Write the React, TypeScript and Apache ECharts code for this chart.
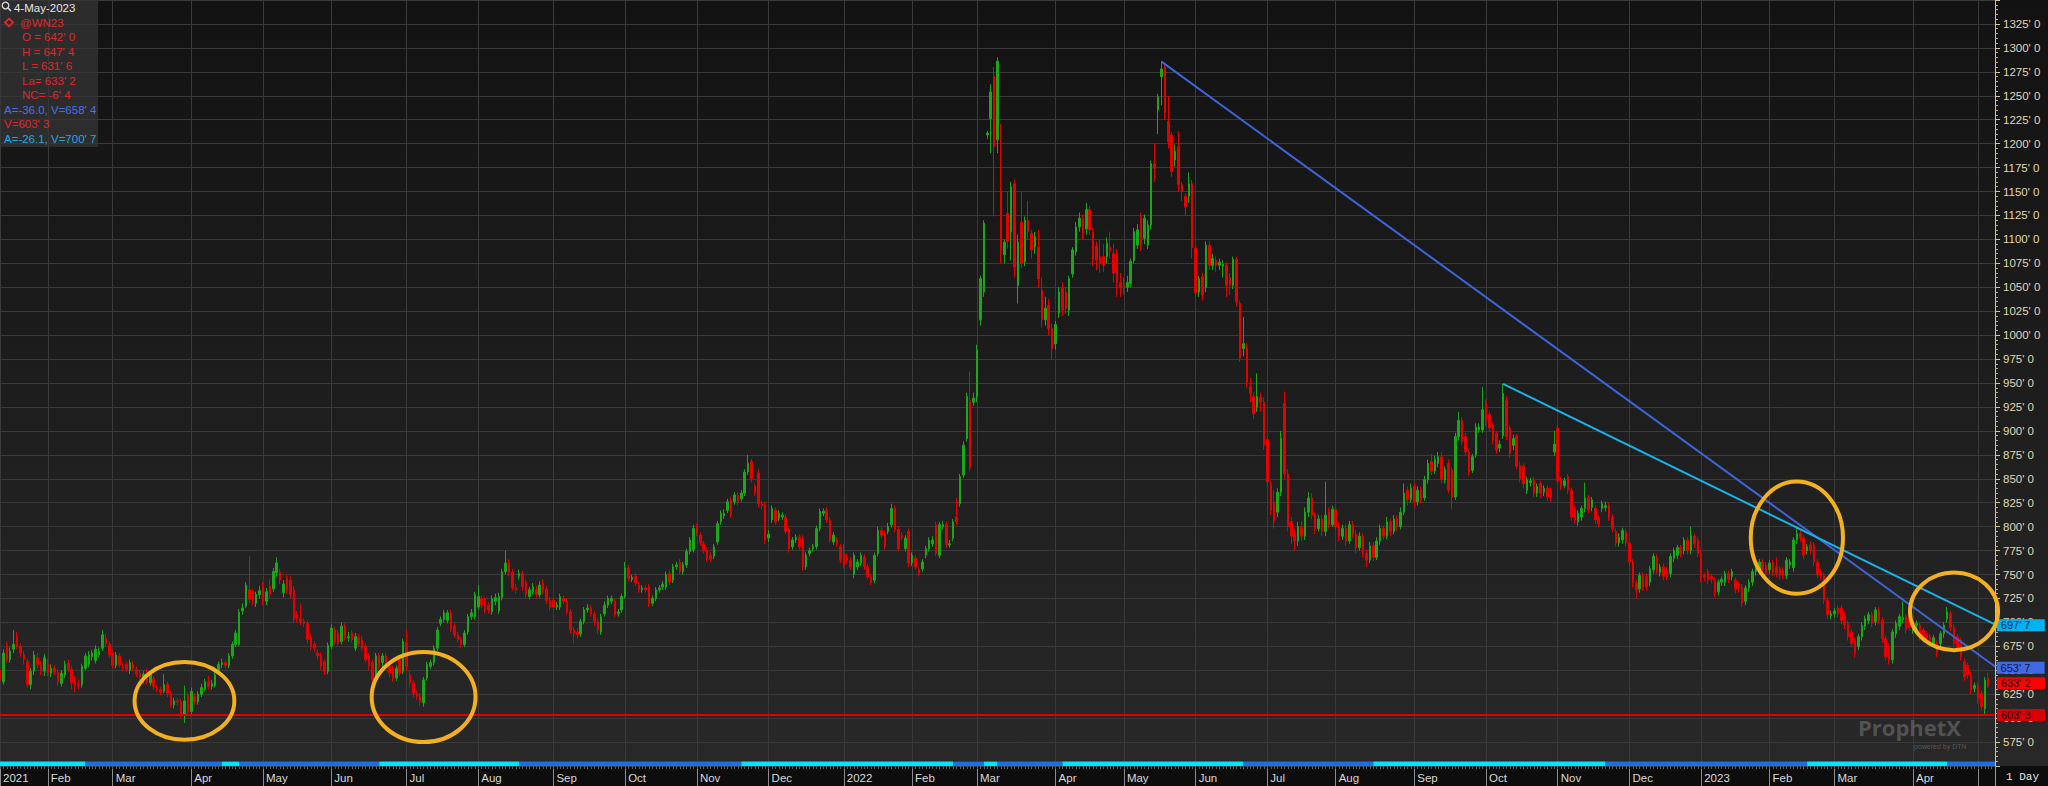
import React, { useEffect, useRef } from "react";
import * as echarts from "echarts";

// ---------- categories (trading days) ----------
const FIRST_DAY = "2021-01-11";
const LAST_DAY = "2023-05-08"; // two empty sessions after the last bar
const HOLIDAYS = [
  "2021-01-18", "2021-02-15", "2021-04-02", "2021-05-31", "2021-07-05", "2021-09-06",
  "2021-11-25", "2021-12-24", "2022-01-17", "2022-02-21", "2022-04-15", "2022-05-30",
  "2022-06-20", "2022-07-04", "2022-09-05", "2022-11-24", "2022-12-26", "2023-01-02",
  "2023-01-16", "2023-02-20", "2023-04-07",
];
const MONTH_ABBR = ["Jan", "Feb", "Mar", "Apr", "May", "Jun", "Jul", "Aug", "Sep", "Oct", "Nov", "Dec"];

// ---------- OHLC values [open, close, low, high] ----------
const OHLC_2021_Q1 = [
  // Jan
  [650,640,632,655],[638,668,635,672],[675,661,658,680],[661,670,658,674],[672,677,668,692],[685,675,672,690],[675,668,664,678],[666,661,656,670],[659,635,632,662],[635,649,630,652],[649,666,645,670],[663,656,652,668],[656,649,645,660],[649,663,644,667],
  // Feb
  [657,647,644,662],[647,652,643,656],[652,648,645,655],[648,638,634,651],[636,647,633,650],[645,656,642,660],[657,651,648,661],[651,637,630,654],[640,634,627,644],[635,634,630,640],[635,654,632,657],[652,665,650,668],[656,666,653,670],[664,668,660,671],[660,672,657,676],[666,670,663,674],[673,687,670,692],[684,678,675,688],[677,666,663,680],
  // Mar
  [668,655,652,671],[655,666,652,669],[665,656,653,668],[654,652,649,658],[656,651,648,659],[650,658,646,661],[656,652,649,660],[651,646,643,654],[647,643,640,650],[640,646,636,649],[648,638,635,652],[637,646,634,650],[641,633,630,644],[632,630,627,635],[630,627,624,633],[628,635,626,646],[635,626,622,638],[626,614,611,629],[614,618,610,621],[618,617,613,621],[617,604,600,620],[604,618,595,634],[624,606,603,627],
];
const OHLC_2021_Q2 = [
  // Apr
  [607,628,604,632],[623,617,614,626],[617,625,614,628],[625,632,622,636],[630,638,628,641],[638,633,630,644],[633,636,630,640],[634,645,632,648],[649,656,646,659],[656,658,652,662],[658,655,651,661],[655,665,652,668],[665,677,662,680],[677,689,674,692],[677,711,675,714],[712,715,708,720],[717,739,715,742],[734,724,720,769],[732,724,718,735],[720,729,716,732],[729,733,725,738],
  // May
  [737,722,718,742],[722,732,718,736],[738,729,725,745],[735,753,732,757],[752,762,748,768],[752,744,740,756],[731,740,726,744],[746,734,730,750],[744,729,725,748],[734,703,700,738],[708,704,700,712],[704,701,697,720],[701,699,695,704],[699,682,678,702],[684,675,671,688],[677,673,669,680],[668,665,661,672],[666,654,650,669],[659,649,645,662],[649,676,646,679],
  // Jun
  [675,694,672,698],[692,680,677,695],[689,678,675,692],[680,696,677,700],[696,684,681,699],[684,685,680,690],[689,682,679,692],[673,685,670,689],[684,678,675,688],[682,673,670,686],[675,661,658,678],[665,654,650,668],[658,640,637,661],[640,665,637,668],[665,654,651,668],[658,665,652,668],[665,658,654,668],[654,647,643,657],[652,642,638,655],[642,652,639,655],[661,647,644,664],[649,680,646,683],
];
const OHLC_2021_Q3 = [
  // Jul
  [679,654,650,692],[645,637,632,650],[637,626,622,640],[626,623,619,629],[623,617,613,626],[616,640,612,643],[642,656,639,659],[654,658,651,661],[658,673,655,676],[673,692,670,695],[699,703,696,706],[703,710,700,713],[702,710,699,713],[710,693,690,713],[696,687,684,699],[687,682,679,690],[682,677,673,685],[677,689,674,692],[690,706,687,709],[706,710,703,714],[706,729,703,732],
  // Aug
  [716,727,713,739],[725,718,715,728],[724,713,710,727],[718,713,709,721],[711,725,708,728],[722,726,718,730],[712,727,709,731],[726,753,723,756],[753,762,750,775],[762,752,748,766],[752,736,733,756],[736,734,730,740],[748,751,745,755],[751,737,733,754],[742,729,725,745],[727,734,724,737],[732,737,729,741],[734,729,726,738],[729,739,726,743],[741,734,730,745],[735,723,719,738],[723,716,712,727],
  // Sep
  [723,716,713,726],[716,718,713,721],[716,727,713,730],[725,722,719,728],[722,711,708,725],[711,692,688,714],[692,688,678,695],[690,687,683,694],[688,701,685,704],[701,713,698,716],[713,715,710,719],[715,709,706,718],[709,701,697,712],[701,692,688,704],[690,706,687,709],[709,718,706,722],[718,725,715,728],[722,725,719,728],[722,708,705,725],[709,711,706,714],[713,727,710,730],
];
const OHLC_2021_Q4 = [
  // Oct
  [727,757,725,763],[757,746,743,760],[745,747,742,750],[748,741,738,751],[739,734,731,742],[734,736,731,739],[736,734,731,738],[737,720,716,740],[720,725,717,728],[725,734,722,737],[734,736,731,739],[737,740,734,743],[737,750,734,753],[751,742,739,754],[744,758,741,761],[758,760,755,763],[763,753,750,766],[753,760,750,763],[760,774,757,777],[774,786,771,789],[776,798,773,802],
  // Nov
  [800,793,790,803],[791,783,780,794],[782,775,772,785],[775,767,764,778],[770,766,763,773],[769,779,766,782],[784,803,781,806],[805,814,802,817],[811,814,808,818],[817,826,814,829],[828,812,809,831],[826,833,823,836],[833,826,822,836],[829,835,826,838],[835,857,832,860],[857,866,854,875],[868,850,846,871],[842,835,832,845],[856,824,820,860],[824,822,818,827],[823,786,782,826],
  // Dec
  [788,792,784,796],[807,819,804,822],[817,805,802,820],[809,814,806,817],[810,812,807,815],[810,795,792,813],[797,777,773,800],[779,786,776,789],[786,789,783,792],[789,779,776,792],[788,758,754,791],[758,770,755,773],[772,775,769,778],[777,779,774,782],[779,798,776,801],[798,816,795,819],[814,816,811,819],[817,807,804,820],[807,786,783,810],[784,791,781,794],[786,782,779,789],[779,765,762,782],
];
const OHLC_2022_Q1 = [
  // Jan
  [772,760,756,782],[768,765,761,772],[765,758,755,768],[750,770,746,773],[758,763,755,766],[762,770,759,773],[768,758,755,771],[758,748,745,761],[747,742,739,750],[744,770,741,773],[772,796,769,800],[796,791,788,799],[793,779,776,796],[795,800,792,804],[802,819,799,824],[819,797,794,822],[797,777,774,800],[791,789,786,794],[777,788,774,791],[795,762,758,798],
  // Feb
  [762,770,759,773],[767,758,755,770],[755,751,748,758],[756,763,753,766],[770,777,767,780],[777,786,774,789],[782,786,779,790],[802,772,769,805],[770,802,767,805],[800,802,797,806],[802,781,778,805],[781,782,778,786],[788,805,785,808],[810,805,802,830],[824,852,821,855],[854,885,851,889],[892,936,889,940],[931,861,858,962],[930,934,926,940],
  // Mar
  [936,984,930,990],[1016,1059,1010,1062],[1045,1117,1040,1120],[1209,1211,1205,1213],[1226,1254,1190,1262],[1270,1197,1124,1280],[1204,1286,1190,1290],[1151,1089,1075,1221],[1084,1097,1075,1100],[1127,1098,1090,1150],[1108,1155,1078,1160],[1158,1071,1060,1163],[1052,1097,1033,1105],[1118,1075,1070,1150],[1077,1120,1072,1124],[1120,1108,1100,1140],[1106,1089,1080,1110],[1092,1103,1085,1108],[1092,1059,1050,1110],[1047,1016,1008,1060],[1016,1028,1010,1040],[1031,1007,1000,1038],[1007,986,974,1012],
];
const OHLC_2022_Q2 = [
  // Apr
  [991,1011,985,1015],[1023,1045,1018,1050],[1049,1026,1020,1055],[1045,1028,1022,1050],[1026,1059,1020,1062],[1064,1089,1060,1092],[1087,1113,1083,1118],[1113,1122,1108,1128],[1122,1106,1100,1126],[1111,1131,1105,1138],[1131,1110,1105,1135],[1108,1078,1072,1112],[1093,1078,1068,1098],[1082,1075,1065,1100],[1082,1073,1066,1095],[1082,1096,1075,1102],[1092,1088,1080,1108],[1085,1065,1055,1095],[1085,1055,1040,1090],[1055,1049,1040,1065],
  // May
  [1052,1050,1042,1060],[1050,1055,1045,1062],[1054,1077,1050,1080],[1078,1108,1075,1112],[1094,1110,1090,1116],[1122,1094,1088,1128],[1101,1122,1095,1126],[1094,1115,1090,1120],[1115,1179,1110,1182],[1179,1174,1160,1200],[1235,1249,1210,1252],[1270,1278,1240,1286],[1280,1232,1225,1284],[1223,1202,1195,1250],[1209,1171,1165,1212],[1183,1192,1176,1199],[1197,1157,1150,1213],[1157,1150,1140,1160],[1145,1134,1125,1148],[1145,1158,1138,1170],[1158,1091,1080,1162],
  // Jun
  [1091,1044,1040,1095],[1045,1059,1040,1062],[1061,1042,1036,1065],[1050,1094,1045,1098],[1094,1073,1068,1098],[1073,1080,1068,1085],[1078,1073,1066,1082],[1073,1076,1068,1080],[1072,1074,1060,1078],[1073,1052,1040,1076],[1060,1052,1042,1065],[1052,1079,1048,1082],[1079,1035,1030,1082],[1033,976,972,1036],[986,991,978,1019],[986,951,945,992],[946,939,930,955],[936,918,912,940],[925,936,920,960],[935,930,920,940],[930,885,880,935],
];
const OHLC_2022_Q3 = [
  // Jul
  [891,847,840,894],[843,817,812,848],[825,805,798,838],[815,836,810,840],[836,892,832,900],[929,855,850,941],[855,800,795,860],[805,790,782,810],[792,785,775,798],[785,800,780,805],[800,790,785,806],[790,815,786,820],[815,830,810,836],[830,812,808,835],[812,798,792,815],[798,808,795,812],[808,795,790,812],[795,812,790,847],[815,802,798,820],[802,818,800,822],
  // Aug
  [818,800,796,822],[800,790,785,805],[790,798,786,802],[798,785,780,802],[785,802,782,806],[802,792,788,806],[792,778,772,796],[778,790,775,794],[790,772,768,793],[772,765,758,776],[765,780,762,784],[780,768,764,784],[768,785,765,789],[785,798,781,802],[798,790,786,801],[790,805,787,810],[805,795,790,808],[795,808,792,812],[808,800,796,812],[800,815,797,820],[815,835,812,845],[838,828,822,842],[828,840,825,845],
  // Sep
  [842,826,820,846],[826,838,822,842],[838,828,824,842],[830,849,827,853],[849,866,845,870],[868,858,854,876],[858,870,855,874],[866,873,862,878],[873,849,845,878],[849,860,845,863],[866,838,835,870],[859,831,818,862],[831,894,828,898],[894,911,890,920],[911,889,885,914],[894,878,874,898],[878,857,853,881],[859,873,856,876],[875,904,872,908],[901,904,898,908],[901,922,898,946],
];
const OHLC_2022_Q4 = [
  // Oct
  [930,910,905,933],[917,903,899,920],[906,890,886,909],[897,880,876,900],[882,886,878,890],[895,939,892,949],[932,894,890,936],[903,876,872,906],[885,892,880,896],[894,863,860,897],[864,850,846,868],[863,845,840,866],[838,849,834,852],[846,848,842,851],[849,835,831,852],[835,842,831,845],[845,835,830,848],[836,840,832,843],[840,831,827,843],[838,830,826,841],[878,886,874,900],
  // Nov
  [903,848,845,906],[849,842,838,852],[843,848,840,851],[852,838,834,855],[838,810,806,841],[819,807,803,822],[805,814,801,817],[810,819,806,822],[819,830,815,846],[830,818,814,833],[820,828,816,831],[819,807,803,822],[809,803,799,812],[819,824,815,827],[820,822,816,826],[822,810,806,825],[810,798,794,813],[795,783,779,798],[783,789,779,793],[786,796,782,799],[795,783,779,798],
  // Dec
  [783,763,759,786],[763,741,737,766],[741,734,725,744],[735,749,731,752],[749,737,733,752],[748,737,733,751],[742,756,738,759],[755,769,751,772],[768,755,751,771],[752,758,748,761],[758,748,744,761],[755,748,744,758],[751,769,747,772],[767,775,763,778],[770,778,766,781],[778,772,768,781],[775,786,771,789],[786,775,771,789],[775,791,771,800],[790,782,778,793],[786,772,768,789],
];
const OHLC_2023_Q1 = [
  // Jan
  [772,746,742,775],[749,747,743,752],[753,744,740,756],[748,745,741,751],[744,730,726,747],[732,742,728,745],[742,745,738,748],[742,751,738,754],[751,745,741,754],[748,753,744,756],[744,734,730,747],[740,735,731,743],[737,720,716,740],[722,736,718,739],[736,742,732,745],[742,753,738,756],[753,763,749,766],[755,763,751,766],[763,755,751,766],[760,751,747,763],
  // Feb
  [755,762,751,765],[762,752,748,765],[758,751,747,768],[756,749,745,759],[755,749,745,758],[749,765,745,768],[760,763,756,766],[757,786,753,789],[786,793,782,800],[793,788,784,796],[788,770,766,791],[775,779,771,782],[781,775,771,785],[781,763,759,784],[763,750,746,766],[753,748,744,756],[749,723,719,752],[723,708,704,726],[707,709,703,712],
  // Mar
  [709,712,705,715],[715,709,705,718],[715,702,698,718],[708,697,693,711],[699,685,681,702],[690,678,674,693],[681,668,663,684],[675,685,671,688],[685,697,681,700],[696,704,692,707],[702,708,698,711],[708,699,695,711],[701,713,697,716],[713,702,698,716],[702,683,679,705],[683,664,660,686],[675,661,656,678],[661,690,657,693],[688,699,684,702],[696,706,692,709],[703,705,699,722],[706,692,688,709],[704,695,691,707],
];
const OHLC_2023_Q2 = [
  // Apr
  [692,700,688,703],[697,699,693,702],[697,685,681,700],[692,682,678,695],[688,683,679,691],[685,678,674,688],[678,684,674,687],[678,668,664,681],[678,688,674,691],[688,697,684,700],[704,711,700,716],[709,695,691,712],[695,678,674,698],[685,673,669,688],[681,664,660,684],[659,643,639,662],[655,645,641,658],[645,629,625,648],[631,634,627,637],
  // May
  [634,619,615,637],[626,612,608,629],[610,639.75,603.375,643],[642,633.25,631.75,647.5],
];

// ---------- drawn studies ----------
const BLUE_LINE = { from: "2022-05-17", fromPrice: 1285.6, to: LAST_DAY, toPrice: 653.875 };
const CYAN_LINE = { from: "2022-10-10", fromPrice: 949, to: LAST_DAY, toPrice: 697.875 };
const SUPPORT_PRICE = 603.375;
const LAST_PRICE = 633.25;
const PREV_CLOSE = 639.75;
// annotation ellipses: centre date/price, half-width in sessions, half-height in price
const RINGS = [
  { date: "2021-03-30", price: 618, rxDays: 14.6, ryPrice: 40.5 },
  { date: "2021-07-09", price: 622, rxDays: 15.2, ryPrice: 47 },
  { date: "2023-02-13", price: 788.5, rxDays: 13.5, ryPrice: 58.5 },
  { date: "2023-04-20", price: 711.5, rxDays: 12.9, ryPrice: 40.5 },
];
// session strip under the price pane
const STRIP = [
  ["2021-01-11", "2021-02-17", "c"], ["2021-02-17", "2021-04-15", "b"], ["2021-04-15", "2021-04-22", "c"],
  ["2021-04-22", "2021-06-21", "b"], ["2021-06-21", "2021-08-18", "c"], ["2021-08-18", "2021-11-18", "b"],
  ["2021-11-18", "2022-02-17", "c"], ["2022-02-17", "2022-03-03", "b"], ["2022-03-03", "2022-03-09", "c"],
  ["2022-03-09", "2022-04-05", "b"], ["2022-04-05", "2022-06-22", "c"], ["2022-06-22", "2022-08-16", "b"],
  ["2022-08-16", "2022-11-21", "c"], ["2022-11-21", "2023-02-16", "b"], ["2023-02-16", "2023-04-18", "c"],
  ["2023-04-18", "2023-05-08", "b"],
];

const FONT = '"Liberation Sans", Arial, sans-serif';
const BLUE = "#3e64dc";
const CYAN = "#19b2ea";
const RED = "#e00000";
const UP = "#1aa81a";
const DOWN = "#e60000";

function buildTradingDays(first: string, last: string, holidays: string[]) {
  const out: string[] = [];
  const hol = new Set(holidays);
  const d = new Date(first + "T00:00:00Z");
  const end = new Date(last + "T00:00:00Z");
  while (d <= end) {
    const wd = d.getUTCDay();
    const s = d.toISOString().slice(0, 10);
    if (wd !== 0 && wd !== 6 && !hol.has(s)) out.push(s);
    d.setUTCDate(d.getUTCDate() + 1);
  }
  return out;
}

function eighths(v: number) {
  const sign = v < 0 ? "-" : "";
  const a = Math.abs(v);
  const whole = Math.floor(a + 1e-9);
  const frac = Math.round((a - whole) * 8);
  return `${sign}${whole}' ${frac}`;
}

export default function App() {
  const ref = useRef<HTMLDivElement>(null);

  useEffect(() => {
    if (!ref.current) return;
    const chart = echarts.init(ref.current, undefined, { renderer: "svg" });

    const dates = buildTradingDays(FIRST_DAY, LAST_DAY, HOLIDAYS);
    const ohlc = [
      ...OHLC_2021_Q1, ...OHLC_2021_Q2, ...OHLC_2021_Q3, ...OHLC_2021_Q4,
      ...OHLC_2022_Q1, ...OHLC_2022_Q2, ...OHLC_2022_Q3, ...OHLC_2022_Q4,
      ...OHLC_2023_Q1, ...OHLC_2023_Q2,
    ];
    const monthStart = dates.map((d, i) => i === 0 || d.slice(0, 7) !== dates[i - 1].slice(0, 7));
    const isMonthStart = (i: number) => !!monthStart[i];
    // the month that starts at the right-hand edge has no room for its label
    const showMonthLabel = (i: number) => !!monthStart[i] && i < dates.length - 10;
    const fmtMonth = (v: string) => {
      const m = parseInt(v.slice(5, 7), 10);
      return m === 1 ? v.slice(0, 4) : MONTH_ABBR[m - 1];
    };

    const priceBox = (text: string, bg: string, fg: string, dy = 0) => ({
      show: true,
      position: "end" as const,
      distance: 2,
      offset: [0, dy],
      formatter: text,
      backgroundColor: bg,
      color: fg,
      fontFamily: FONT,
      fontSize: 11,
      lineHeight: 11,
      padding: [1, 4, 0, 4],
      width: 40,
      align: "left" as const,
    });

    const option: any = {
      animation: false,
      backgroundColor: new echarts.graphic.LinearGradient(0, 0, 0, 1, [
        { offset: 0, color: "#121212" },
        { offset: 0.974, color: "#282828" },
        { offset: 0.9746, color: "#0d0d0d" },
        { offset: 1, color: "#0d0d0d" },
      ]),
      grid: { left: 0, right: 53, top: 0, bottom: 20, containLabel: false },
      xAxis: [
        {
          type: "category",
          data: dates,
          boundaryGap: false,
          axisLine: { show: false },
          axisTick: { show: true, interval: isMonthStart, length: 20, lineStyle: { color: "#8c8c8c", width: 1 } },
          axisLabel: {
            show: true,
            interval: showMonthLabel,
            formatter: fmtMonth,
            align: "left",
            margin: 6,
            padding: [0, 0, 0, 3],
            color: "#d8d8d8",
            fontSize: 11.5,
            fontFamily: FONT,
          },
          splitLine: { show: true, interval: isMonthStart, lineStyle: { color: "#3a3a3a", width: 1 } },
        },
        {
          type: "category",
          data: dates,
          boundaryGap: false,
          position: "bottom",
          axisLine: { show: false },
          axisTick: { show: true, interval: 0, length: 3, lineStyle: { color: "#5c5c5c", width: 1 } },
          axisLabel: { show: false },
          splitLine: { show: false },
        },
      ],
      yAxis: {
        type: "value",
        position: "right",
        min: 550,
        max: 1350,
        interval: 25,
        axisLine: { show: true, lineStyle: { color: "#d6c896", width: 1 } },
        axisTick: { show: true, length: 5, lineStyle: { color: "#d6c896" } },
        minorTick: { show: true, splitNumber: 5, length: 3, lineStyle: { color: "#b9ad83" } },
        axisLabel: {
          color: "#e0d6b6",
          fontSize: 11.5,
          lineHeight: 10,
          fontFamily: FONT,
          margin: 8,
          showMinLabel: false,
          showMaxLabel: false,
          formatter: (v: number) => `${v}' 0`,
        },
        splitLine: { show: true, lineStyle: { color: "#3a3a3a", width: 1 } },
      },
      series: [
        {
          name: "@WN23",
          type: "candlestick",
          xAxisIndex: 0,
          yAxisIndex: 0,
          data: ohlc,
          barWidth: 2,
          itemStyle: { color: UP, color0: DOWN, borderColor: UP, borderColor0: DOWN, borderWidth: 1 },
          markArea: {
            silent: true,
            data: STRIP.map(([s, e, c]) => [
              { xAxis: s, yAxis: 550, itemStyle: { color: c === "c" ? "#00e5ff" : "#1a6ee8", opacity: 1 } },
              { xAxis: e, yAxis: 554.6 },
            ]),
          },
          markLine: {
            silent: true,
            symbol: ["none", "none"],
            data: [
              [
                { coord: [BLUE_LINE.from, BLUE_LINE.fromPrice] },
                {
                  coord: [BLUE_LINE.to, BLUE_LINE.toPrice],
                  lineStyle: { color: BLUE, width: 2, type: "solid" },
                  label: priceBox(eighths(BLUE_LINE.toPrice), "#4169e1", "#0d1b45"),
                },
              ],
              [
                { coord: [CYAN_LINE.from, CYAN_LINE.fromPrice] },
                {
                  coord: [CYAN_LINE.to, CYAN_LINE.toPrice],
                  lineStyle: { color: CYAN, width: 2, type: "solid" },
                  label: priceBox(eighths(CYAN_LINE.toPrice), "#00b2f0", "#0d1b45"),
                },
              ],
              {
                yAxis: SUPPORT_PRICE,
                lineStyle: { color: RED, width: 2, type: "solid" },
                label: priceBox(eighths(SUPPORT_PRICE), "#dc0000", "#2a0000"),
              },
              {
                yAxis: LAST_PRICE,
                lineStyle: { color: "rgba(0,0,0,0)", width: 0, type: "solid" },
                label: priceBox(eighths(LAST_PRICE), "#ff0000", "#2a0000", -3),
              },
            ],
          },
        },
      ],
    };

    chart.setOption(option);

    // ---- graphics: rings placed through the chart's own coordinate system ----
    const p0 = chart.convertToPixel({ xAxisIndex: 0 }, dates[0]) as number;
    const p1 = chart.convertToPixel({ xAxisIndex: 0 }, dates[1]) as number;
    const pxPerDay = p1 - p0;
    const ya = chart.convertToPixel({ yAxisIndex: 0 }, 600) as number;
    const yb = chart.convertToPixel({ yAxisIndex: 0 }, 700) as number;
    const pxPerPrice = Math.abs(ya - yb) / 100;

    const rings = RINGS.map((r) => {
      const [cx, cy] = chart.convertToPixel({ gridIndex: 0 }, [r.date, r.price]) as number[];
      return {
        type: "ellipse",
        silent: true,
        z: 100,
        shape: { cx, cy, rx: r.rxDays * pxPerDay, ry: r.ryPrice * pxPerPrice },
        style: { fill: "none", stroke: "#f3b020", lineWidth: 4 },
      };
    });

    const last = ohlc[ohlc.length - 1];
    const legendLines = [
      { t: `O = ${eighths(last[0])}`, x: 22, y: 37, c: "#e0262b" },
      { t: `H = ${eighths(last[3])}`, x: 22, y: 51.5, c: "#e0262b" },
      { t: `L = ${eighths(last[2])}`, x: 22, y: 66, c: "#e0262b" },
      { t: `La= ${eighths(last[1])}`, x: 22, y: 80.5, c: "#e0262b" },
      { t: `NC= ${eighths(last[1] - PREV_CLOSE)}`, x: 22, y: 95, c: "#e0262b" },
      { t: "A=-36.0, V=658' 4", x: 4, y: 109.5, c: "#4a70e6" },
      { t: `V=${eighths(SUPPORT_PRICE)}`, x: 4, y: 124, c: "#e0262b" },
      { t: "A=-26.1, V=700' 7", x: 4, y: 138.5, c: "#1ea8e2" },
    ];

    const statics: any[] = [
      {
        type: "rect",
        silent: true,
        z: 90,
        shape: { x: 0, y: 0, width: 98, height: 147 },
        style: { fill: "rgba(54,54,54,0.72)" },
      },
      { type: "circle", silent: true, z: 100, shape: { cx: 5.5, cy: 5.5, r: 3.3 }, style: { fill: "none", stroke: "#d8d8d8", lineWidth: 1.3 } },
      { type: "line", silent: true, z: 100, shape: { x1: 8, y1: 8, x2: 11, y2: 11 }, style: { stroke: "#d8d8d8", lineWidth: 1.6 } },
      {
        type: "text", silent: true, z: 100, x: 14, y: 8,
        style: { text: "4-May-2023", fill: "#e6e6e6", fontSize: 11.5, fontFamily: FONT, verticalAlign: "middle" },
      },
      {
        type: "polygon", silent: true, z: 100,
        shape: { points: [[9, 18.5], [13, 22.5], [9, 26.5], [5, 22.5]] },
        style: { fill: "none", stroke: "#e0262b", lineWidth: 1.8 },
      },
      {
        type: "text", silent: true, z: 100, x: 20, y: 22.5,
        style: { text: "@WN23", fill: "#e0262b", fontSize: 11.5, fontFamily: FONT, verticalAlign: "middle" },
      },
      ...legendLines.map((l) => ({
        type: "text", silent: true, z: 100, x: l.x, y: l.y,
        style: { text: l.t, fill: l.c, fontSize: 11.5, fontFamily: FONT, verticalAlign: "middle" },
      })),
      {
        type: "text", silent: true, z: 5, x: 1858, y: 727,
        style: { text: "ProphetX", fill: "rgba(120,120,120,0.55)", fontSize: 22, fontWeight: "bold", fontFamily: '"Open Sans", sans-serif', verticalAlign: "middle" },
      },
      {
        type: "text", silent: true, z: 5, x: 1914, y: 746,
        style: { text: "powered by DTN", fill: "rgba(110,110,110,0.7)", fontSize: 7, fontFamily: FONT, verticalAlign: "middle" },
      },
      { type: "line", silent: true, z: 100, shape: { x1: 1995.5, y1: 766, x2: 1995.5, y2: 786 }, style: { stroke: "#9a9a9a", lineWidth: 1 } },
      {
        type: "text", silent: true, z: 100, x: 2006, y: 777,
        style: { text: "1 Day", fill: "#e4e4e4", fontSize: 11, fontFamily: '"Liberation Mono", monospace', verticalAlign: "middle" },
      },
    ];

    chart.setOption({ graphic: [...statics, ...rings] });

    return () => chart.dispose();
  }, []);

  return (
    <div
      ref={ref}
      style={{ position: "absolute", left: 0, top: 0, width: 2048, height: 786 }}
    />
  );
}
